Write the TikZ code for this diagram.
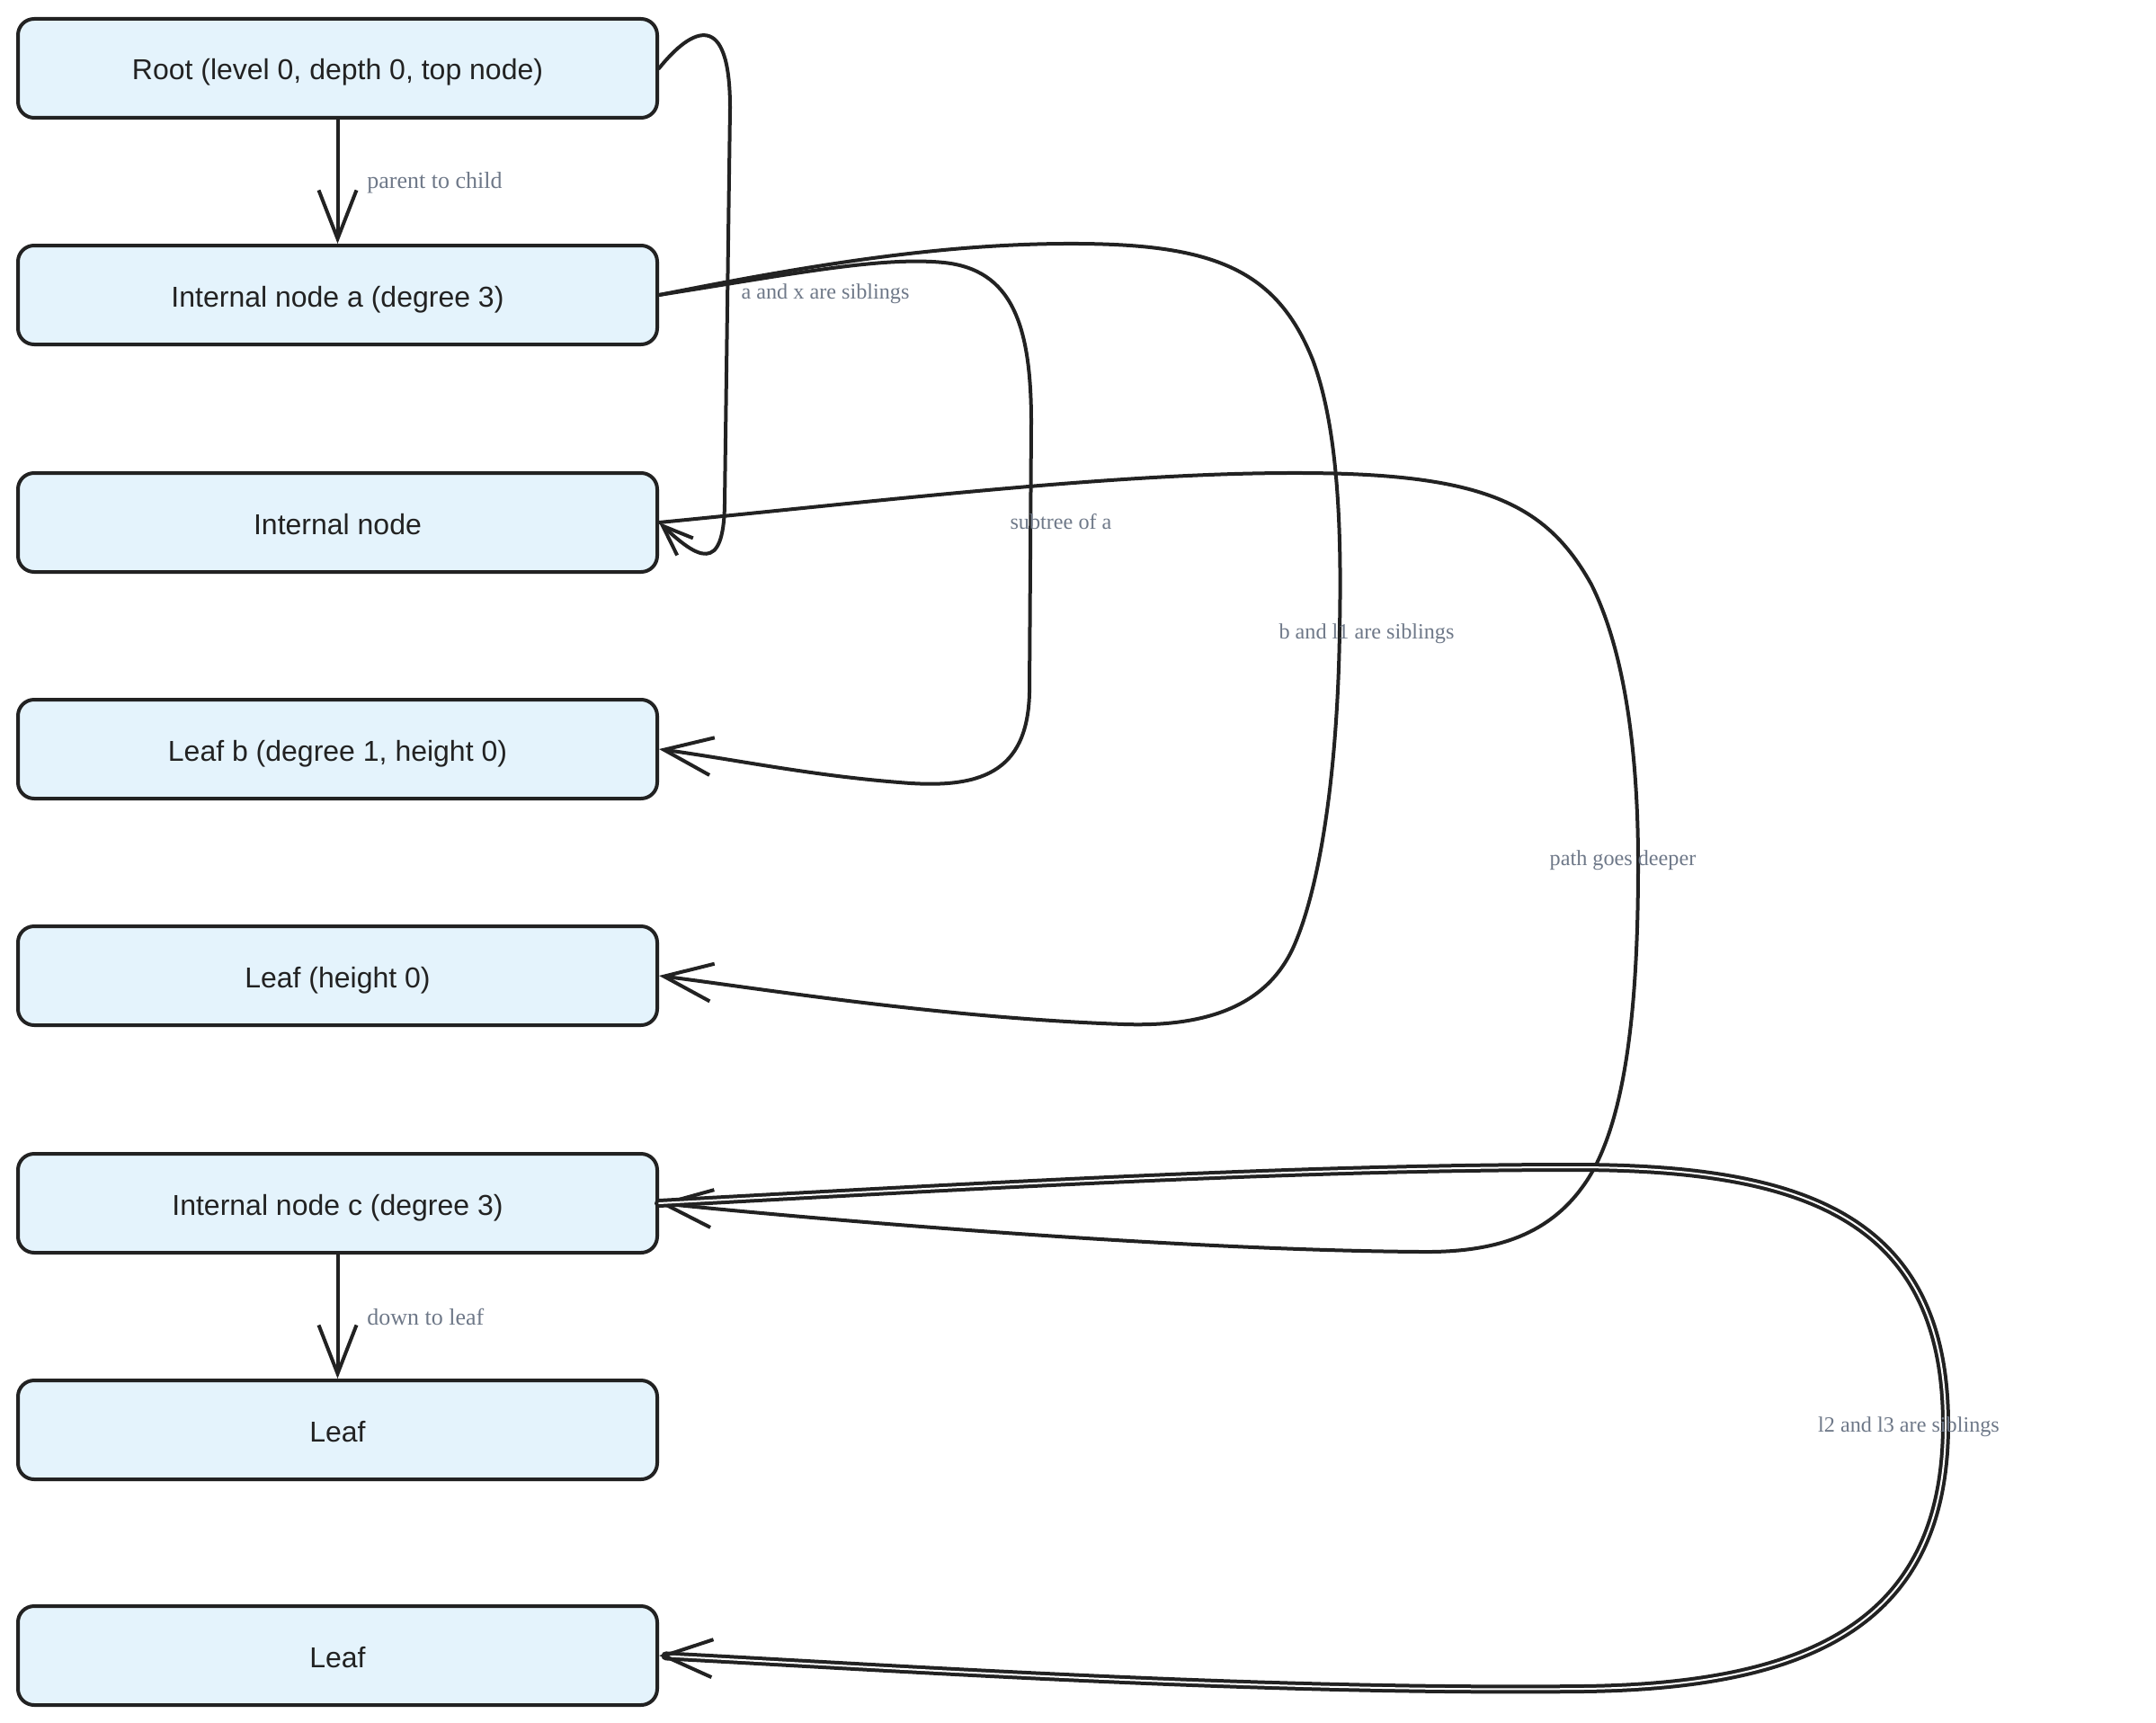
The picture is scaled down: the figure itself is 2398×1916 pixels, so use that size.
\documentclass[tikz,border=0pt]{standalone}
\usepackage{fontspec}
\setmainfont{Liberation Serif}
\newfontfamily\nodefont{Liberation Sans}
\usetikzlibrary{arrows.meta}
\definecolor{ink}{HTML}{222222}
\definecolor{nodefill}{HTML}{E4F3FC}
\definecolor{lblcol}{HTML}{6E7888}
\tikzset{
  box/.style={draw=ink, line width=2pt, fill=nodefill, rounded corners=9pt,
    minimum width=355.5pt, minimum height=55pt, inner sep=0pt,
    text height=14pt, text depth=1pt,
    font=\nodefont\fontsize{16}{19}\selectfont, text=ink},
  lbl/.style={font=\fontsize{13}{15}\selectfont, text=lblcol, inner sep=0pt},
  clbl/.style={font=\fontsize{12.1}{14}\selectfont, text=lblcol, inner sep=0pt},
  arr/.style={draw=ink, line width=2pt, line cap=round, line join=round,
    -{Straight Barb[length=27pt, width=21pt, line width=2pt]}},
  smallarr/.style={draw=ink, line width=2pt, line cap=round, line join=round,
    -{Straight Barb[length=17pt, width=13pt, line width=2pt]}},
}
\begin{document}
\begin{tikzpicture}[x=0.5pt, y=-0.5pt]
\useasboundingbox (0,0) rectangle (2398,1916);
\node[box] (root) at (375.5,76)   {Root (level 0, depth 0, top node)};
\node[box] (a)    at (375.5,328)  {Internal node a (degree 3)};
\node[box] (x)    at (375.5,581)  {Internal node};
\node[box] (b)    at (375.5,833)  {Leaf b (degree 1, height 0)};
\node[box] (l1)   at (375.5,1085) {Leaf (height 0)};
\node[box] (c)    at (375.5,1338) {Internal node c (degree 3)};
\node[box] (l2)   at (375.5,1590) {Leaf};
\node[box] (l3)   at (375.5,1841) {Leaf};

% parent to child
\draw[arr] (root.south) -- (a.north);
\node[lbl, anchor=west] (lpc) at (408,203) {parent to child};

% a and x are siblings (root -> x)
\draw[smallarr] (root.east) .. controls (770,30) and (812,10) .. (812,120)
  -- (806,560) .. controls (805,640) and (775,620) .. (x.east);
\node[clbl] (lax) at (918,327) {a and x are siblings};

% subtree of a (a -> b)
\draw[arr] (a.east) .. controls (880,305) and (980,285) .. (1050,292)
  .. controls (1125,300) and (1147,360) .. (1147,470)
  -- (1145,770) .. controls (1143,860) and (1090,878) .. (1000,870)
  .. controls (900,862) and (820,845) .. (b.east);
\node[clbl] (lsa) at (1180,580) {subtree of a};

% b and l1 are siblings (a -> l1)
\draw[arr] (a.east) .. controls (900,295) and (1050,270) .. (1200,271)
  .. controls (1350,272) and (1420,300) .. (1460,400)
  .. controls (1490,480) and (1492,600) .. (1490,700)
  .. controls (1488,850) and (1470,980) .. (1440,1050)
  .. controls (1410,1120) and (1340,1142) .. (1250,1139)
  .. controls (1050,1132) and (850,1100) .. (l1.east);
\node[clbl] (lbl1) at (1520,705) {b and l1 are siblings};

% path goes deeper (x -> c)
\draw[arr] (x.east) .. controls (1000,555) and (1250,525) .. (1450,526)
  .. controls (1650,527) and (1720,560) .. (1770,650)
  .. controls (1810,730) and (1822,850) .. (1822,960)
  .. controls (1822,1100) and (1812,1250) .. (1760,1320)
  .. controls (1720,1375) and (1660,1393) .. (1580,1392)
  .. controls (1300,1390) and (900,1355) .. (c.east);
\node[clbl] (lpd) at (1805,957) {path goes deeper};

% down to leaf (c -> l2)
\draw[arr] (c.south) -- (l2.north);
\node[lbl, anchor=west] (ldl) at (408,1464) {down to leaf};

% l2 and l3 are siblings (c -> l3)
\draw[arr, double=white, double distance=1pt] (c.east) .. controls (1100,1318) and (1450,1298) .. (1750,1298)
  .. controls (2000,1298) and (2164,1350) .. (2164,1584)
  .. controls (2164,1800) and (2020,1875) .. (1760,1878)
  .. controls (1400,1882) and (1000,1855) .. (l3.east);
\node[clbl] (ll23) at (2123,1587) {l2 and l3 are siblings};
\end{tikzpicture}
\end{document}
